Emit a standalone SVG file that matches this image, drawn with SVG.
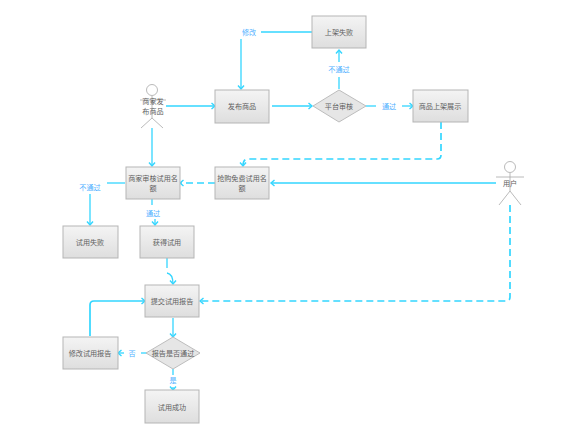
<svg xmlns="http://www.w3.org/2000/svg" width="565" height="434" viewBox="0 0 565 434">
<style>
text{font-family:"Noto Sans CJK SC","Noto Sans",sans-serif;font-size:7.1px;text-anchor:middle;dominant-baseline:central;fill:#606060}
.l{fill:#4fb0ff}
.box{fill:url(#g);stroke:#b5b5b5;stroke-width:1}
.dia{fill:#e6e6e6;stroke:#bdbdbd;stroke-width:1}
.act{fill:none;stroke:#a8a8a8;stroke-width:.8}
.c{fill:none;stroke:#33d6ff;stroke-width:1.3}
.d{stroke-dasharray:7 4}
.t{stroke-width:1.7}
</style>
<defs>
<linearGradient id="g" x1="0" y1="0" x2="0" y2="1"><stop offset="0" stop-color="#f4f4f4"/><stop offset="1" stop-color="#dedede"/></linearGradient>
<marker id="a" markerUnits="userSpaceOnUse" markerWidth="7" markerHeight="8" refX="5" refY="4" orient="auto"><path d="M1.5 1L5 4L1.5 7" fill="none" stroke="#33d6ff" stroke-width="1.4"/></marker>
</defs>
<g id="connectors">
<path class="c" d="M313 32H261"/>
<path class="c" d="M241 39V89" marker-end="url(#a)"/>
<path class="c" d="M166 106H215" marker-end="url(#a)"/>
<path class="c" d="M272 106H312" marker-end="url(#a)"/>
<path class="c" d="M339 89V77"/>
<path class="c" d="M339 62V50" marker-end="url(#a)"/>
<path class="c" d="M366 106H376"/>
<path class="c" d="M402 106H413" marker-end="url(#a)"/>
<path class="c d t" d="M441 122V155Q441 159 437 159H248Q243 159 243 166" marker-end="url(#a)"/>
<path class="c t" d="M496 183H271" marker-end="url(#a)"/>
<path class="c d t" d="M215 183H180" marker-end="url(#a)"/>
<path class="c" d="M152 128V166" marker-end="url(#a)"/>
<path class="c" d="M125 183H107"/>
<path class="c" d="M90 194V225" marker-end="url(#a)"/>
<path class="c" d="M152 199V205"/>
<path class="c" d="M155 219V225" marker-end="url(#a)"/>
<path class="c" d="M167 258V268"/>
<path class="c" d="M167 273Q173 274 173 284" marker-end="url(#a)"/>
<path class="c t" d="M90 336V305Q90 301 94 301H145" marker-end="url(#a)"/>
<path class="c d t" d="M510 205V297Q510 301 506 301H200" marker-end="url(#a)"/>
<path class="c" d="M173 318V337" marker-end="url(#a)"/>
<path class="c" d="M147 353H141"/>
<path class="c" d="M124 353H118" marker-end="url(#a)"/>
<path class="c" d="M173 369V375"/>
<path class="c" d="M173 387V390" marker-end="url(#a)"/>
</g>
<g id="merchant"><circle class="act" cx="152" cy="90" r="5.5"/><path class="act" d="M152 96V118M140 100H166M152 118L141 128M152 118L163 128"/><text x="153" y="101">商家发</text><text x="153" y="111">布商品</text></g>
<g id="publish"><rect class="box" x="215" y="90" width="54" height="33"/><text x="242" y="106">发布商品</text></g>
<g id="listfail"><rect class="box" x="312" y="16" width="54" height="32"/><text x="339" y="32">上架失败</text></g>
<g id="platform"><path class="dia" d="M339 90L366 106L339 122L313 106Z"/><text x="339" y="106">平台审核</text></g>
<g id="display"><rect class="box" x="413" y="90" width="55" height="32"/><text x="440" y="106">商品上架展示</text></g>
<g id="user"><circle class="act" cx="510" cy="167" r="5.5"/><path class="act" d="M510 173V191M496 177H524M510 191L499 205M510 191L521 205"/><text x="510" y="183">用户</text></g>
<g id="grab"><rect class="box" x="215" y="167" width="54" height="32"/><text x="242" y="178">抢购免费试用名</text><text x="242" y="188">额</text></g>
<g id="review"><rect class="box" x="126" y="167" width="54" height="32"/><text x="153" y="178">商家审核试用名</text><text x="153" y="188">额</text></g>
<g id="tryfail"><rect class="box" x="63" y="226" width="55" height="32"/><text x="90" y="242">试用失败</text></g>
<g id="gettrial"><rect class="box" x="140" y="226" width="54" height="32"/><text x="167" y="242">获得试用</text></g>
<g id="report"><rect class="box" x="145" y="285" width="54" height="32"/><text x="172" y="301">提交试用报告</text></g>
<g id="modify"><rect class="box" x="63" y="337" width="55" height="32"/><text x="90" y="353">修改试用报告</text></g>
<g id="passed"><path class="dia" d="M173 337L200 353L173 369L146 353Z"/><text x="173" y="353">报告是否通过</text></g>
<g id="success"><rect class="box" x="145" y="390" width="54" height="33"/><text x="172" y="407">试用成功</text></g>
<g id="labels">
<text class="l" x="249" y="32">修改</text>
<text class="l" x="339" y="69">不通过</text>
<text class="l" x="389" y="106">通过</text>
<text class="l" x="90" y="187">不通过</text>
<text class="l" x="153" y="213">通过</text>
<text class="l" x="132" y="353">否</text>
<text class="l" x="173" y="380">是</text>
</g>
</svg>
